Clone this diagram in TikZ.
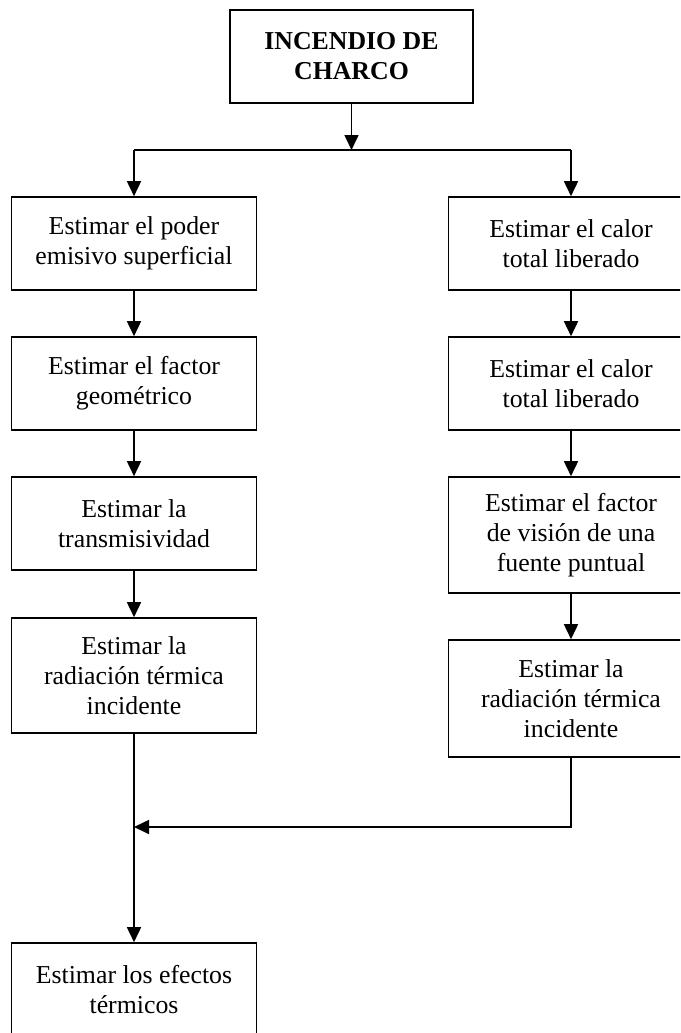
\documentclass[tikz,border=0pt]{standalone}
\usepackage{fontspec}
\setmainfont{Liberation Serif}
\usetikzlibrary{arrows.meta}
\begin{document}
\begin{tikzpicture}[x=1pt,y=-1pt,
  box/.style={draw,line width=1.6pt,minimum width=245pt,inner sep=0pt,align=center,font=\fontsize{25.8}{30}\selectfont},
  two/.style={box,minimum height=93pt},
  three/.style={box,minimum height=116pt},
  conn/.style={line width=1.6pt},
  arr/.style={conn,-{Triangle[length=15pt,width=14pt]}}]
\useasboundingbox (0,0) rectangle (680,1033);
\clip (0,0) rectangle (680,1033);
\node[two,minimum width=243pt,font=\fontsize{25.8}{30}\selectfont\bfseries] (top) at (351.5,56.5) {INCENDIO DE\\CHARCO};
\node[two] (L1) at (134,243.5) {Estimar el poder\\emisivo superficial};
\node[two] (L2) at (134,383.5) {Estimar el factor\\geométrico};
\node[two] (L3) at (134,523.5) {Estimar la\\transmisividad};
\node[three,minimum height=115pt] (L4) at (134,675.5) {Estimar la\\radiación térmica\\incidente};
\node[two] (L5) at (134,989.5) {Estimar los efectos\\térmicos};
\node[two] (R1) at (571,243.5) {Estimar el calor\\total liberado};
\node[two] (R2) at (571,383.5) {Estimar el calor\\total liberado};
\node[three] (R3) at (571,535) {Estimar el factor\\de visión de una\\fuente puntual};
\node[three,minimum height=117pt] (R4) at (571,698.5) {Estimar la\\radiación térmica\\incidente};
\coordinate (split) at (351.5,150);
\coordinate (sl) at (134,150);
\coordinate (sr) at (571,150);
\coordinate (merge) at (134,827);
\coordinate (mr) at (571,827);
\draw[arr] (top.south) -- (split);
\draw[conn] (sl) -- (sr);
\draw[arr] (sl) -- (L1.north);
\draw[arr] (sr) -- (R1.north);
\draw[arr] (L1.south) -- (L2.north);
\draw[arr] (L2.south) -- (L3.north);
\draw[arr] (L3.south) -- (L4.north);
\draw[arr] (R1.south) -- (R2.north);
\draw[arr] (R2.south) -- (R3.north);
\draw[arr] (R3.south) -- (R4.north);
\draw[arr] (L4.south) -- (L5.north);
\draw[arr] (R4.south) -- (mr) -- (merge);
\end{tikzpicture}
\end{document}
